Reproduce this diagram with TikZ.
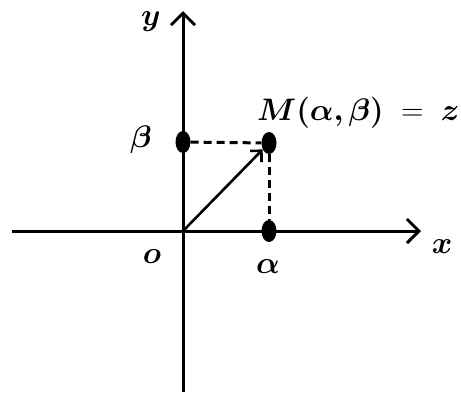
\documentclass[tikz,border=0pt]{standalone}
\usepackage{amsmath,bm}
\usetikzlibrary{arrows.meta,positioning,shapes.geometric}
\newcommand{\biglab}[1]{\scalebox{1.25}{$#1$}}
\tikzset{
  >={Straight Barb[length=12pt,width=24pt,line width=3pt]},
  axis/.style={->,line width=3pt},
  vec/.style={-{Straight Barb[length=8pt,width=16pt,line width=2.6pt]},line width=2.6pt},
  dot/.style={ellipse,fill=black,inner sep=0pt,minimum width=15pt,minimum height=22pt},
  proj/.style={line width=3pt,dash pattern=on 8pt off 5pt},
  lab/.style={font=\Huge,inner sep=0pt},
}
\begin{document}
\begin{tikzpicture}[x=1pt,y=-1pt]
\useasboundingbox (0,0) rectangle (461,392);
% axes
\coordinate (xl) at (12,231);
\coordinate (xr) at (421,231);
\coordinate (yb) at (183,392);
\coordinate (yt) at (183,11);
\coordinate (o) at (183,231);
\draw[axis] (xl) -- (xr);
\draw[axis] (yb) -- (yt);
% points
\node[dot] (pb) at (183,142) {};
\node[dot] (pm) at (269,143) {};
\node[dot] (pa) at (269,231) {};
\draw[proj] (pb) -- (pm);
\draw[proj] (pm) -- (pa);
\draw[vec] (o) -- (pm);
% labels
\node[lab] (ly) at (151,22) {\biglab{\bm{y}}};
\node[lab] (lx) at (442,247) {\biglab{\bm{x}}};
\node[lab] (lo) at (152,257) {\biglab{\bm{o}}};
\node[lab] (la) at (268,267) {\biglab{\bm{\alpha}}};
\node[lab] (lb) at (141,140) {\biglab{\bm{\beta}}};
\node[lab,anchor=west] (lm) at (257,113) {\biglab{\bm{M(\alpha,\beta)} \;=\; \bm{z}}};
\end{tikzpicture}
\end{document}
